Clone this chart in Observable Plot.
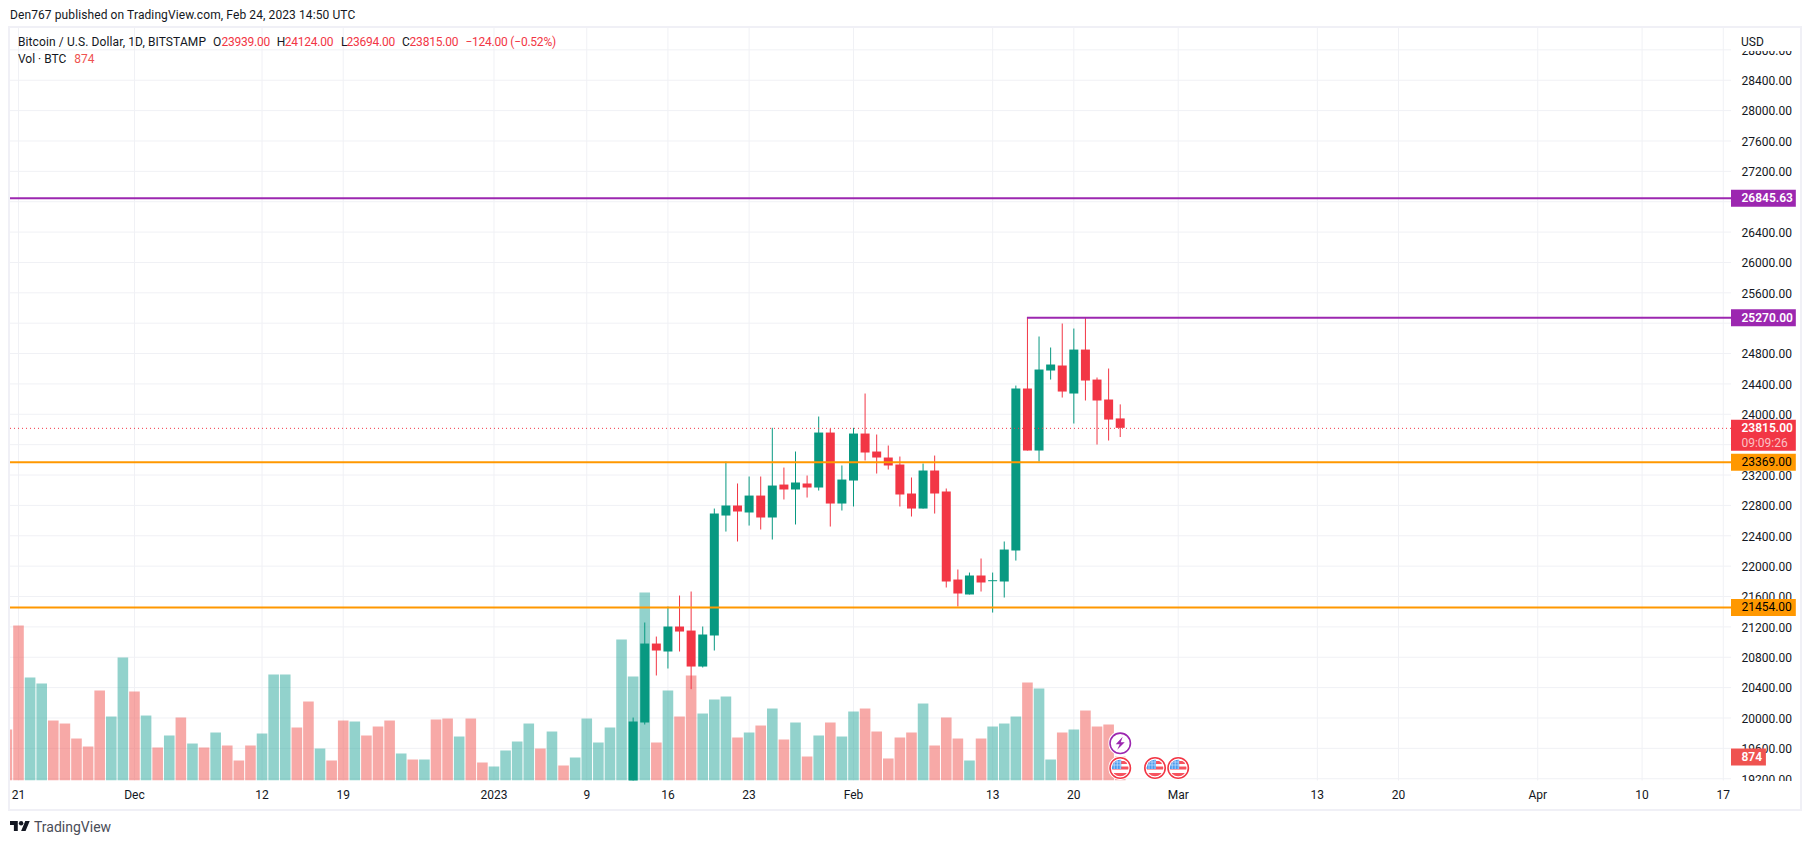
<!DOCTYPE html>
<html>
<head>
<meta charset="utf-8">
<script src="https://cdn.jsdelivr.net/npm/d3@7"></script>
<script src="https://cdn.jsdelivr.net/npm/@observablehq/plot@0.6"></script>
<style>
  html,body{margin:0;padding:0;background:#fff;}
  #page{position:relative;width:1811px;height:844px;overflow:hidden;font-family:Roboto,sans-serif;color:#131722;}
  #page svg.chart{position:absolute;left:0;top:0;}
  .t{position:absolute;white-space:nowrap;font-size:12px;line-height:14px;}
  .l{letter-spacing:.1px;}
  .r{color:#f23645;letter-spacing:-.22px;}
  #frame{position:absolute;left:8px;top:26px;width:1790px;height:781px;border:2px solid #f0f0f6;pointer-events:none;}
  .cover{position:absolute;background:#fff;}
</style>
</head>
<body>
<div id="page"></div>
<script>
// ---------- data ----------
const firstDay = Date.UTC(2022, 10, 21);          // 21 Nov 2022 = day 0

// candles: day 53 (13 Jan) .. day 95 (24 Feb)
const candleFirstDay = 53;
const opens  = [19000,19934,20974,20869,21198,21145,20671,21079,22660,22792,22700,22923,22634,23068,23003,23082,23029,23753,22818,23121,23740,23503,23424,23332,22950,22752,23253,22976,21817,21620,21870,21795,21791,22199,24333,23516,24570,24636,24267,24846,24451,24188,23939];
const closes = [19947,20974,20882,21198,21132,20671,21093,22686,22792,22713,22923,22634,23055,23003,23095,23029,23753,22818,23134,23740,23490,23424,23319,22937,22752,23253,22950,21791,21633,21870,21778,21808,22212,24333,23516,24583,24649,24293,24846,24438,24175,23924,23815];
const highs  = [19999,21251,21066,21461,21606,21659,21198,22752,23371,23082,23174,23174,23815,23292,23503,23187,23964,23806,23319,23815,24267,23727,23582,23437,23161,23345,23450,23016,21949,21909,22094,21909,22318,24372,25270,25018,24873,25189,25123,25270,24478,24596,24124];
const lows   = [18800,19907,20553,20645,20869,20373,20658,20882,22449,22318,22528,22476,22344,22871,22542,22897,22989,22515,22726,22779,23385,23213,23266,22779,22647,22752,22686,21712,21461,21620,21659,21382,21580,22067,23516,23371,24451,24214,23872,24175,23595,23648,23694];

// volume in BTC: day -1 .. day 95
const volumeFirstDay = -1;
const volumes = [1856,5640,3748,3530,2183,2074,1528,1237,3275,2329,4476,3239,2365,1201,1638,2293,1346,1201,1747,1274,728,1274,1710,3857,3857,1929,2875,1164,728,2183,2147,1638,1965,2183,983,764,764,2220,2256,1601,2256,655,509,1092,1419,2074,1164,1783,546,837,2256,1383,1929,5131,3785,6841,1383,3275,2329,3821,2438,2948,3057,1565,1747,2001,2620,1492,2111,873,1638,2111,1601,2511,2620,1783,801,1565,1747,2802,1274,2293,1528,728,1528,1965,2074,2329,3566,3348,764,1747,1856,2547,1965,2038,874];
// bar colour per volume entry: g = rising day, p = falling day
const volumeDirs = "pp gg ppppp gg p g p g p g p g ppp ggg pp g pp g ppp g p g pp g pp gggg p g p ggggggg p g pp ggg p g p g p g p g p gg ppppp g ppp g p ggg p gg p g pppp".split(" ").join("");

// horizontal levels
const purpleLevel = 26845.63, purpleRay = 25270, orangeLevels = [23369, 21454], lastPrice = 23815;
const rayStartDay = 87;

// axes
const priceTicks = d3.range(19200, 28801, 400);
const labelsUnderBadges = [26800, 25200, 23600, 23400];   // hidden behind the level badges in the reference
const priceLabels = priceTicks.filter(t => !labelsUnderBadges.includes(t));
const timeTicks = [[0,"21"],[10,"Dec"],[21,"12"],[28,"19"],[41,"2023"],[49,"9"],[56,"16"],[63,"23"],[72,"Feb"],[84,"13"],[91,"20"],[100,"Mar"],[112,"13"],[119,"20"],[131,"Apr"],[140,"10"],[147,"17"]];

// event markers
const lightningEvents = [{day:95, price:19666}];
const flagEvents = [{day:95, price:19341},{day:98, price:19341},{day:100, price:19341}];

// ---------- helpers ----------
const dayDate = d => new Date(firstDay + d * 864e5);
const candles = opens.map((o,i)=>({date:dayDate(candleFirstDay+i),open:o,close:closes[i],high:highs[i],low:lows[i],up:closes[i]>=o}));
const volumeBase = 19170, btcToPrice = 0.36186;
const vols = volumes.map((v,i)=>({date:dayDate(volumeFirstDay+i),top:volumeBase+v*btcToPrice,up:volumeDirs[i]==="g"}));

const GREEN="#089981", RED="#f23645", PURPLE="#9c27b0", ORANGE="#ff9800", VRED="#ef5350", VGREEN="#26a69a", GRID="#f0f1f5";
const axisLeft = dayDate(147.71), axisRight = dayDate(153.3), axisText = dayDate(148.57), axisRightShort = dayDate(150.72);

const svgUrl = s => "data:image/svg+xml;utf8," + encodeURIComponent(s);
const flagIcon = svgUrl(`<svg xmlns="http://www.w3.org/2000/svg" viewBox="0 0 24 24"><defs><clipPath id="c"><circle cx="12" cy="12" r="8.3"/></clipPath></defs><circle cx="12" cy="12" r="12" fill="#fff"/><circle cx="12" cy="12" r="10.2" fill="#fff" stroke="#f23645" stroke-width="1.6"/><g clip-path="url(#c)"><rect x="0" y="0" width="24" height="24" fill="#fff"/><rect x="3" y="5" width="18" height="3" fill="#f7525f"/><rect x="3" y="10.5" width="18" height="3" fill="#f7525f"/><rect x="3" y="17" width="18" height="4" fill="#f7525f"/><rect x="3" y="3" width="10" height="10" fill="#4a9cf0"/><path d="M6 3v10M9 3v10M12 3v10M3 6h10M3 9h10" stroke="#cfe3fb" stroke-width=".7"/></g></svg>`);
const boltIcon = svgUrl(`<svg xmlns="http://www.w3.org/2000/svg" viewBox="0 0 24 24"><circle cx="12" cy="12" r="12" fill="#fff"/><circle cx="12" cy="12" r="10.2" fill="#fff" stroke="#9c27b0" stroke-width="1.6"/><path d="M14.5 5.5 L7.5 13 H11.5 L9 18.5 L16.5 10.8 H12.5 Z" fill="#9c27b0"/></svg>`);

// ---------- chart ----------
const plot = Plot.plot({
  width:1811, height:844, marginLeft:10, marginRight:80, marginTop:27.5, marginBottom:63.5,
  className:"chart",
  style:{background:"transparent",fontFamily:"Roboto,sans-serif",fontSize:"12px",color:"#131722",overflow:"visible"},
  x:{type:"utc",domain:[dayDate(-0.69),dayDate(147.71)],label:null,axis:null},
  y:{type:"linear",domain:[volumeBase,29088],label:null},
  marks:[
    Plot.ruleX(timeTicks,{x:d=>dayDate(d[0]),stroke:GRID,strokeWidth:1}),
    Plot.ruleY(priceTicks,{y:d=>d,stroke:GRID,strokeWidth:1}),
    // volume
    Plot.ruleX(vols,{x:"date",y1:volumeBase,y2:"top",stroke:d=>d.up?VGREEN:VRED,strokeOpacity:0.5,strokeWidth:10.6,clip:"frame"}),
    // candles
    Plot.ruleX(candles,{x:"date",y1:"low",y2:"high",stroke:d=>d.up?GREEN:RED,strokeWidth:1,clip:"frame"}),
    Plot.ruleX(candles,{x:"date",y1:"open",y2:"close",stroke:d=>d.up?GREEN:RED,strokeWidth:9,clip:"frame"}),
    // levels
    Plot.ruleY([purpleLevel],{stroke:PURPLE,strokeWidth:2}),
    Plot.ruleY([purpleRay],{x1:dayDate(rayStartDay),x2:axisLeft,stroke:PURPLE,strokeWidth:2}),
    Plot.ruleY(orangeLevels,{stroke:ORANGE,strokeWidth:2}),
    Plot.ruleY([lastPrice],{stroke:RED,strokeWidth:1,strokeDasharray:"1 3"}),
    // axes
    Plot.axisY({anchor:"right",ticks:priceLabels,tickSize:0,tickPadding:10,textAnchor:"start",tickFormat:d=>d.toFixed(2),fontSize:12,label:null,fill:"#131722",dy:1}),
    Plot.text(timeTicks,{x:d=>dayDate(d[0]),text:d=>d[1],frameAnchor:"bottom",dy:14,fontSize:12,fontWeight:d=>d[1]==="2023"?600:400,fill:"#131722",lineAnchor:"middle"}),
    // axis badges
    Plot.ruleY([purpleLevel,purpleRay],{x1:axisLeft,x2:axisRight,stroke:PURPLE,strokeWidth:17}),
    Plot.ruleY(orangeLevels,{x1:axisLeft,x2:axisRight,stroke:ORANGE,strokeWidth:17}),
    Plot.ruleY([lastPrice],{x1:axisLeft,x2:axisRight,stroke:RED,strokeWidth:31,dy:7}),
    Plot.ruleY([volumeBase+volumes[volumes.length-1]*btcToPrice],{x1:axisLeft,x2:axisRightShort,stroke:VRED,strokeWidth:17}),
    Plot.text([purpleLevel,purpleRay],{x:axisText,y:d=>d,text:d=>d.toFixed(2),textAnchor:"start",fill:"#fff",fontWeight:600,fontSize:12}),
    Plot.text(orangeLevels,{x:axisText,y:d=>d,text:d=>d.toFixed(2),textAnchor:"start",fill:"#000",fontSize:12}),
    Plot.text([lastPrice],{x:axisText,y:d=>d,text:d=>d.toFixed(2),textAnchor:"start",fill:"#fff",fontWeight:600,fontSize:12}),
    Plot.text(["09:09:26"],{x:axisText,y:lastPrice,dy:14.5,text:d=>d,textAnchor:"start",fill:"#fff",fillOpacity:0.7,fontSize:12}),
    Plot.text([volumes[volumes.length-1]],{x:axisText,y:d=>volumeBase+d*btcToPrice,text:d=>String(d),textAnchor:"start",fill:"#fff",fontWeight:600,fontSize:12}),
    // event markers
    Plot.image(lightningEvents,{x:d=>dayDate(d.day),y:"price",src:()=>boltIcon,width:24,height:24}),
    Plot.image(flagEvents,{x:d=>dayDate(d.day),y:"price",src:()=>flagIcon,width:24,height:24})
  ]
});

const page = document.getElementById("page");
page.appendChild(plot);

function addText(left, top, html, cls=""){
  const el=document.createElement("div");
  el.className="t "+cls; el.style.left=left+"px"; el.style.top=top+"px"; el.innerHTML=html; page.appendChild(el); return el;
}
// clip the axis labels at the top and bottom of the price scale
for (const [l,t,w,h] of [[1733,28,64,23],[1733,781,64,25]]) {
  const c=document.createElement("div"); c.className="cover";
  c.style.cssText=`left:${l}px;top:${t}px;width:${w}px;height:${h}px`; page.appendChild(c);
}
const frame=document.createElement("div"); frame.id="frame"; page.appendChild(frame);

addText(10,8,"Den767 published on TradingView.com, Feb 24, 2023 14:50 UTC","l");
addText(18,34.5,"Bitcoin / U.S. Dollar, 1D, BITSTAMP","l");
addText(213,34.5,"O");
addText(221.4,34.5,"23939.00","r");
addText(276.8,34.5,"H");
addText(284.7,34.5,"24124.00","r");
addText(341,34.5,"L");
addText(346.4,34.5,"23694.00","r");
addText(402,34.5,"C");
addText(409.6,34.5,"23815.00","r");
addText(465.4,34.5,"\u2212124.00 (\u22120.52%)","r");
addText(18,52,"Vol \u00b7 BTC");
addText(74.3,52,"874").style.color=VRED;
addText(1741,34.5,"USD");

const logo=document.createElement("div");
logo.style.cssText="position:absolute;left:10px;top:821px;width:20px;height:10px;";
logo.innerHTML='<svg width="20" height="10" viewBox="0 4 36 18" preserveAspectRatio="none" style="display:block"><path fill="#131722" d="M14 22H7V11H0V4h14v18zM28 22h-8l7.5-18h8L28 22z"/><circle fill="#131722" cx="20" cy="8" r="4"/></svg>';
page.appendChild(logo);
const tv=addText(34,818.5,"TradingView"); tv.style.fontSize="14px"; tv.style.lineHeight="16px"; tv.style.color="#4a4d57";
</script>
</body>
</html>
